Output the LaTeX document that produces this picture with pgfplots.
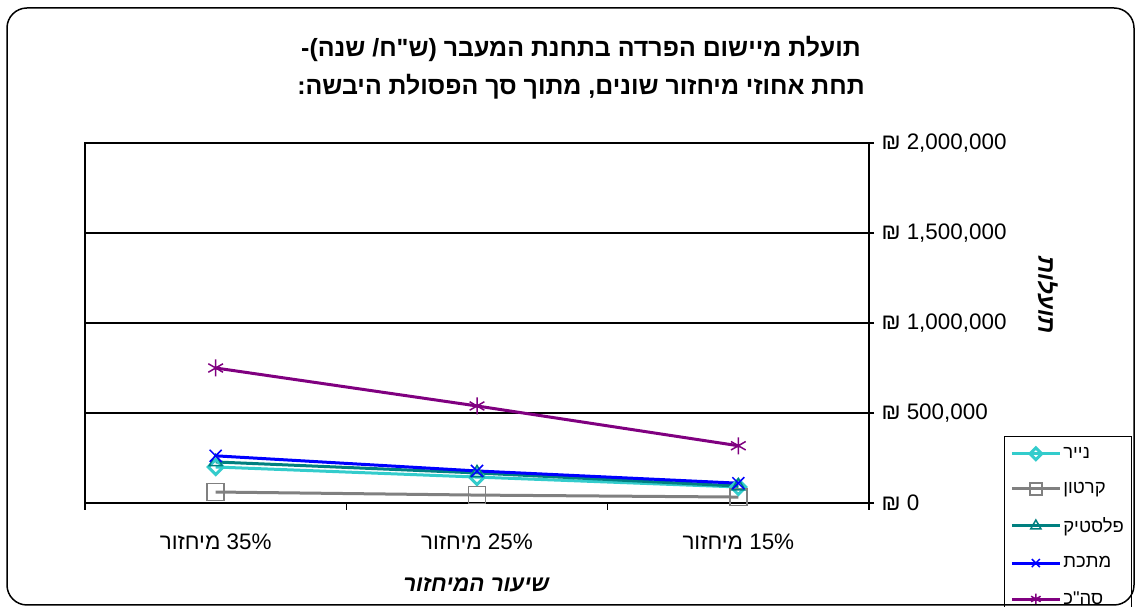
\documentclass[border=0pt]{standalone}
\usepackage{fontspec}
\usepackage{pgfplots}
\pgfplotsset{compat=1.18}
\setmainfont{Liberation Sans}
\newfontfamily\heb[Script=Hebrew]{Liberation Sans}
\TeXXeTstate=1
\newcommand{\R}[1]{{\heb\beginR #1\endR}}
\definecolor{cpaper}{RGB}{51,204,204}
\definecolor{ccard}{RGB}{128,128,128}
\definecolor{cplast}{RGB}{0,128,128}
\definecolor{cmetal}{RGB}{0,0,255}
\definecolor{ctotal}{RGB}{128,0,128}
\begin{document}
\begin{tikzpicture}[x=1bp,y=1bp]
\useasboundingbox (0,0) rectangle (1136,607);
\fill[white] (0,0) rectangle (1136,607);
\begin{axis}[
  at={(85bp,104bp)}, anchor=south west, scale only axis,
  width=784bp, height=360bp,
  xmin=-0.5, xmax=2.5, ymin=0, ymax=2000000,
  xtick={0,1,2},
  xticklabels={{\R{מיחזור} 35\%},{\R{מיחזור} 25\%},{\R{מיחזור} 15\%}},
  major x tick style={draw=none},
  minor xtick={-0.5,0.5,1.5,2.5},
  minor tick length=7bp,
  major tick length=5bp,
  tick align=outside,
  xtick pos=bottom,
  ytick={0,500000,1000000,1500000,2000000},
  yticklabels={{₪ 0},{₪ 500,000},{₪ 1,000,000},{₪ 1,500,000},{₪ 2,000,000}},
  ytick pos=right, yticklabel pos=right,
  scaled y ticks=false,
  ymajorgrids,
  grid style={black, line width=1.3bp},
  axis line style={black, line width=1.3bp},
  every tick/.style={black, line width=1.3bp},
  tick label style={font=\fontsize{22.5}{26}\selectfont},
  xticklabel style={yshift=-22bp},
  yticklabel style={anchor=west, xshift=4bp},
  xlabel={\heb\beginR שיעור המיחזור\endR},
  xlabel style={at={(axis description cs:0.499,-0.228)}, anchor=center, font=\fontsize{22.5}{26}\selectfont\heb\bfseries\itshape},
  ylabel={\heb\beginR תועלות\endR},
  ylabel style={at={(axis description cs:1.228,0.578)}, anchor=center, rotate=-180, font=\fontsize{24}{26}\selectfont\heb\bfseries\itshape},
  legend style={at={(axis description cs:1.172,0.186)}, anchor=north west,
    draw=black, line width=1bp, font=\fontsize{18.5}{20}\selectfont\heb,
    row sep=18.5bp, inner xsep=6bp, inner ysep=9bp},
  legend cell align=left,
  legend image code/.code={\draw[mark repeat=2,mark phase=2] plot coordinates {(0bp,0bp) (24bp,0bp) (48bp,0bp)};},
  every axis plot/.append style={line width=3bp, mark options={solid, line width=1.5bp}},
]
\addplot[color=cpaper, mark=square, mark size=5.3bp, mark options={rotate=45}, legend image post style={mark size=4.2bp}] coordinates {(0,200000) (1,144000) (2,89000)};
\addlegendentry{\R{נייר}}
\addplot[color=ccard, mark=square, mark size=8.5bp, legend image post style={mark size=6bp}] coordinates {(0,61000) (1,44000) (2,33000)};
\addlegendentry{\R{קרטון}}
\addplot[color=cplast, mark=triangle, mark size=7.5bp, legend image post style={mark size=6bp}] coordinates {(0,228000) (1,167000) (2,94000)};
\addlegendentry{\R{פלסטיק}}
\addplot[color=cmetal, mark=x, mark size=8.5bp, legend image post style={mark size=5.7bp}] coordinates {(0,262000) (1,178000) (2,110000)};
\addlegendentry{\R{מתכת}}
\addplot[color=ctotal, mark=asterisk, mark size=8.5bp, legend image post style={mark size=5.5bp}] coordinates {(0,750000) (1,539000) (2,318000)};
\addlegendentry{\R{סה"כ}}
\end{axis}
\draw[line width=1.5bp, rounded corners=20bp] (7,2) rectangle (1134,599);
\node[align=center, font=\fontsize{25}{38}\selectfont\heb\bfseries] at (581,539)
  {\R{תועלת מיישום הפרדה בתחנת המעבר (ש"ח/ שנה)-}\\ \R{תחת אחוזי מיחזור שונים, מתוך סך הפסולת היבשה:}};
\end{tikzpicture}
\end{document}
